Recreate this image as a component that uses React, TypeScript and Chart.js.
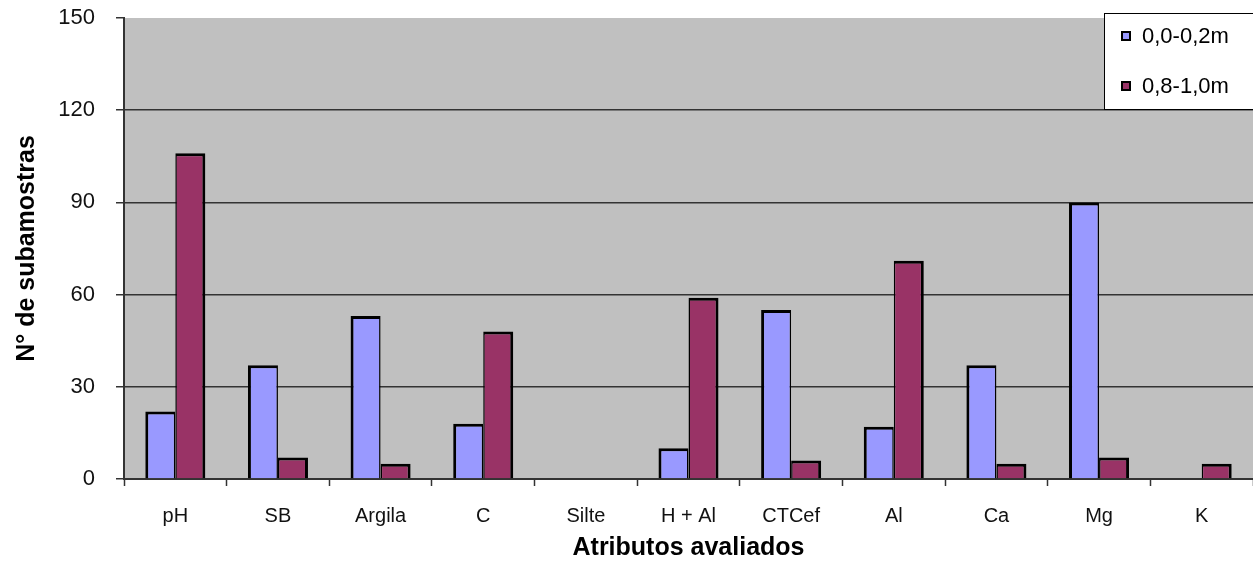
import React, { useEffect, useRef } from "react";
import { Chart, registerables } from "chart.js";

Chart.register(...registerables);

const categories = ["pH", "SB", "Argila", "C", "Silte", "H + Al", "CTCef", "Al", "Ca", "Mg", "K"];
const seriesNames = ["0,0-0,2m", "0,8-1,0m"];
const surfaceValues = [22, 37, 53, 18, 0, 10, 55, 17, 37, 90, 0];
const deepValues = [106, 7, 5, 48, 0, 59, 6, 71, 5, 7, 5];
const yTicks = [0, 30, 60, 90, 120, 150];

const FONT = "'Liberation Sans', Arial, sans-serif";
const BLUE = "#9999FF";
const WINE = "#993366";
const PLOT_BG = "#C0C0C0";

// Gray plot area behind bars and gridlines
const plotBackground = {
  id: "plotBackground",
  beforeDraw(chart: any) {
    const { ctx, chartArea } = chart;
    ctx.save();
    ctx.fillStyle = PLOT_BG;
    ctx.fillRect(chartArea.left, chartArea.top, chartArea.right - chartArea.left, chartArea.bottom - chartArea.top);
    ctx.restore();
  },
};

// Boxed legend in the upper-right corner, over the plot area
const boxedLegend = {
  id: "boxedLegend",
  afterDraw(chart: any) {
    const { ctx } = chart;
    const colors = [BLUE, WINE];
    const x = 1104.5;
    const y = 13.5;
    ctx.save();
    ctx.fillStyle = "#ffffff";
    ctx.fillRect(x, y, 160, 96);
    ctx.strokeStyle = "#000000";
    ctx.lineWidth = 1;
    ctx.strokeRect(x, y, 160, 96);
    ctx.font = `22px ${FONT}`;
    ctx.textBaseline = "middle";
    ctx.textAlign = "left";
    seriesNames.forEach((name, i) => {
      const cy = 36 + i * 50;
      ctx.fillStyle = colors[i];
      ctx.fillRect(1122, cy - 4, 8, 8);
      ctx.lineWidth = 2;
      ctx.strokeStyle = "#000";
      ctx.strokeRect(1122, cy - 4, 8, 8);
      ctx.fillStyle = "#000";
      ctx.fillText(name, 1142, cy + 1);
    });
    ctx.restore();
  },
};

export default function App() {
  const canvasRef = useRef<HTMLCanvasElement>(null);

  useEffect(() => {
    if (!canvasRef.current) return;
    const chart = new Chart(canvasRef.current, {
      type: "bar",
      data: {
        labels: categories,
        datasets: [
          {
            label: seriesNames[0],
            data: surfaceValues,
            backgroundColor: BLUE,
            borderColor: "#000",
            borderWidth: { top: 3, left: 3, right: 1.5, bottom: 0 },
            borderSkipped: false,
          },
          {
            label: seriesNames[1],
            data: deepValues,
            backgroundColor: WINE,
            borderColor: "#000",
            borderWidth: { top: 3, left: 1.5, right: 3, bottom: 0 },
            borderSkipped: false,
          },
        ],
      },
      options: {
        animation: false,
        responsive: false,
        devicePixelRatio: 1,
        layout: { padding: { top: 18, right: 0, left: 0, bottom: 0 } },
        plugins: {
          legend: { display: false },
          tooltip: { enabled: false },
        },
        datasets: {
          bar: { categoryPercentage: 0.585, barPercentage: 1 },
        },
        scales: {
          x: {
            grid: {
              offset: true,
              drawOnChartArea: false,
              drawTicks: true,
              tickLength: 7,
              tickColor: "#333",
              tickWidth: 1.5,
            },
            border: { color: "#333", width: 2 },
            ticks: {
              color: "#111",
              font: { family: FONT, size: 20 },
              padding: 18,
              maxRotation: 0,
              autoSkip: false,
            },
            title: {
              display: true,
              text: "Atributos avaliados",
              color: "#000",
              font: { family: FONT, size: 25, weight: "bold", lineHeight: 1 },
              padding: { top: 0, bottom: 1 },
            },
            afterFit(scale: any) {
              scale.height = 83;
              scale.paddingLeft = 0;
              scale.paddingRight = 0;
            },
          },
          y: {
            min: 0,
            max: 150,
            afterBuildTicks(scale: any) {
              scale.ticks = yTicks.map((v) => ({ value: v }));
            },
            grid: {
              color: (c: any) => (c.tick && c.tick.value === 150 ? "rgba(0,0,0,0)" : "#333"),
              lineWidth: 1.5,
              tickLength: 8,
              tickColor: "#333",
              tickWidth: 1.5,
            },
            border: { color: "#333", width: 2 },
            ticks: {
              color: "#111",
              font: { family: FONT, size: 22 },
              padding: 21,
            },
            title: {
              display: true,
              text: "N° de subamostras",
              color: "#000",
              font: { family: FONT, size: 25, weight: "bold", lineHeight: 1 },
              padding: { top: 15, bottom: 0 },
            },
            afterFit(scale: any) {
              scale.width = 124;
              scale.paddingTop = 0;
              scale.paddingBottom = 0;
            },
          },
        },
      },
      plugins: [plotBackground, boxedLegend],
    });
    return () => chart.destroy();
  }, []);

  return (
    <div style={{ position: "fixed", left: 0, top: 0, width: 1253, height: 562, background: "#fff" }}>
      <canvas ref={canvasRef} width={1253} height={562} style={{ width: 1253, height: 562, display: "block" }} />
    </div>
  );
}
